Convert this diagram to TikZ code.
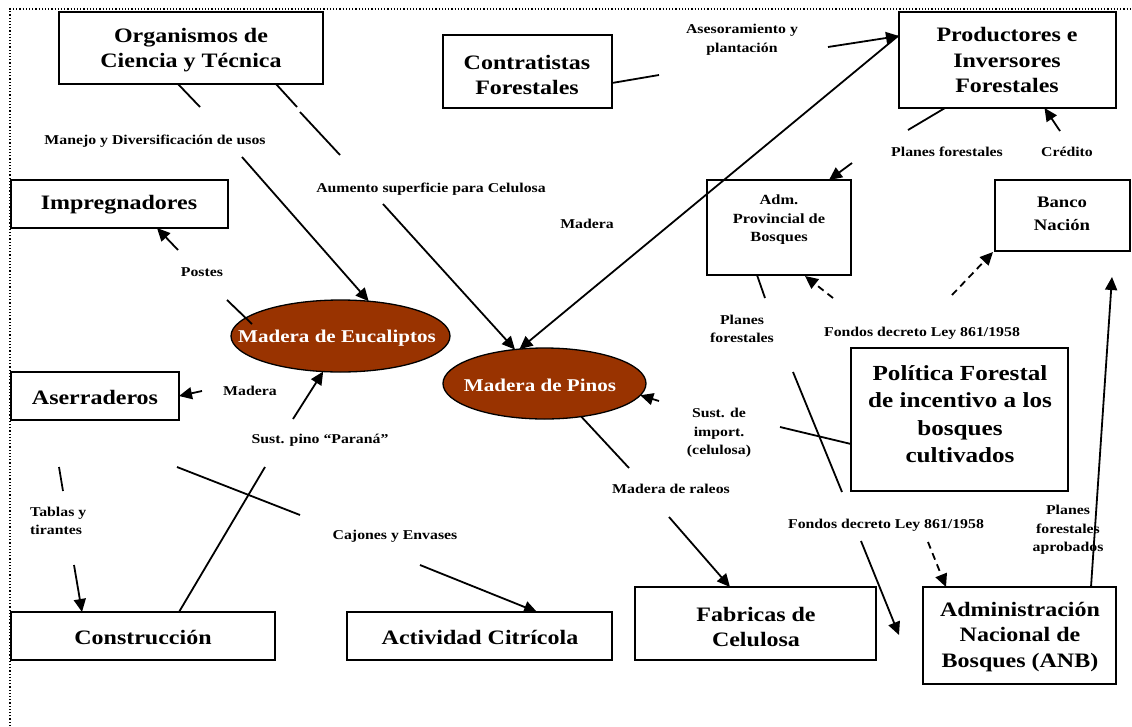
\documentclass[tikz,border=0pt]{standalone}
\usepackage{fontspec}
\setmainfont{Liberation Serif}[FakeStretch=1.17]
\usetikzlibrary{arrows.meta,shapes.geometric,calc}
\definecolor{wood}{HTML}{993300}
% draws an empty framed box from its two corners
\newcommand\boxnode[5]{%
  \node[box, minimum width={(#4-#2)*1pt}, minimum height={(#5-#3)*1pt}]
    (#1) at ({(#2+#4)/2},{(#3+#5)/2}) {};}
\begin{document}
\begin{tikzpicture}[x=1pt,y=-1pt,
  box/.style={draw, line width=1.6pt, inner sep=0pt, outer sep=0pt},
  big/.style={font=\fontsize{20.5}{25.5}\selectfont\bfseries, align=center, inner sep=0pt},
  mid/.style={font=\fontsize{14}{18.5}\selectfont\bfseries, align=center, inner sep=0pt},
  lbl/.style={font=\fontsize{13.5}{18.5}\selectfont\bfseries, align=center, inner sep=0pt},
  wood/.style={ellipse, draw, line width=1.3pt, fill=wood, inner sep=0pt, outer sep=0pt},
  woodtext/.style={text=white, font=\fontsize{18}{22}\selectfont\bfseries, inner sep=0pt},
  ln/.style={line width=1.8pt},
  arr/.style={line width=1.8pt, -{Triangle[length=13pt,width=12pt]}},
  dsh/.style={arr, dash pattern=on 7pt off 5pt}]
\useasboundingbox (0,0) rectangle (1132,726);

% outer dotted frame
\draw[line width=1.2pt, dotted] (10,726) -- (10,9) -- (1132,9);

% boxes
\boxnode{org}{59}{12}{323}{84}
\boxnode{con}{443}{35}{612}{108}
\boxnode{prod}{899}{12}{1116}{108}
\boxnode{imp}{11}{180}{228}{228}
\boxnode{adm}{707}{180}{851}{275}
\boxnode{banco}{995}{180}{1130}{251}
\boxnode{ase}{11}{372}{179}{420}
\boxnode{pol}{851}{348}{1068}{491}
\boxnode{cons}{11}{612}{275}{660}
\boxnode{citr}{347}{612}{612}{660}
\boxnode{fab}{635}{587}{876}{660}
\boxnode{anb}{923}{587}{1116}{684}

% box titles
\node[big] (org-t) at (191,50) {Organismos de\\Ciencia y Técnica};
\node[big] (con-t) at (527,75) {Contratistas\\Forestales};
\node[big] (prod-t) at (1007,60) {Productores e\\Inversores\\Forestales};
\node[big] (imp-t) at (119,205) {Impregnadores};
\node[mid] (adm-t) at (779,220) {Adm.\\Provincial de\\Bosques};
\node[font=\fontsize{16}{23}\selectfont\bfseries, align=center, inner sep=0pt]
  (banco-t) at (1062,214) {Banco\\Nación};
\node[big] (ase-t) at (95,397) {Aserraderos};
\node[font=\fontsize{21.5}{27.5}\selectfont\bfseries, align=center, inner sep=0pt]
  (pol-t) at (960,414) {Política Forestal\\de incentivo a los\\bosques\\cultivados};
\node[big] (cons-t) at (143,637) {Construcción};
\node[big] (citr-t) at (480,637) {Actividad Citrícola};
\node[big] (fab-t) at (756,627) {Fabricas de\\Celulosa};
\node[big] (anb-t) at (1020,637) {Administración\\Nacional de\\Bosques (ANB)};

% the two kinds of wood
\node[wood, minimum width=219pt, minimum height=72pt] (euc) at (340.5,336) {};
\node[woodtext] (euc-t) at (337,338) {Madera de Eucaliptos};
\node[wood, minimum width=203pt, minimum height=71pt] (pin) at (544.5,383.5) {};
\node[woodtext] (pin-t) at (540,385) {Madera de Pinos};

% flow labels
\node[lbl] (l-manejo) at (155,141) {Manejo y Diversificación de usos};
\node[lbl] (l-aumento) at (431,189) {Aumento superficie para Celulosa};
\node[lbl] (l-ases) at (742,40) {Asesoramiento y\\plantación};
\node[lbl] (l-mad1) at (587,224) {Madera};
\node[lbl] (l-planes1) at (947,152) {Planes forestales};
\node[lbl] (l-cred) at (1067,152) {Crédito};
\node[lbl] (l-postes) at (202,272) {Postes};
\node[lbl] (l-mad2) at (250,391) {Madera};
\node[lbl] (l-sust) at (320,440) {Sust. pino “Paraná”};
\node[lbl] (l-planes2) at (742,329) {Planes\\forestales};
\node[lbl] (l-fondos1) at (922,333) {Fondos decreto Ley 861/1958};
\node[lbl] (l-import) at (719,433) {Sust. de\\import.\\(celulosa)};
\node[lbl] (l-raleos) at (671,489) {Madera de raleos};
\node[lbl, align=left, anchor=west] (l-tablas) at (30,521) {Tablas y\\tirantes};
\node[lbl] (l-cajones) at (395,536) {Cajones y Envases};
\node[lbl] (l-fondos2) at (886,525) {Fondos decreto Ley 861/1958};
\node[lbl] (l-aprob) at (1068,530) {Planes\\forestales\\aprobados};

% break points of the connectors around their labels
\coordinate (a1) at (200,107);  \coordinate (a2) at (242,157);
\coordinate (b1) at (297,107);  \coordinate (b2) at (300,112);
\coordinate (b3) at (340,155);  \coordinate (b4) at (383,204);
\coordinate (c1) at (659,75);   \coordinate (c2) at (828,47);
\coordinate (e1) at (908,130);  \coordinate (e2) at (852,163);
\coordinate (f1) at (1060,131);
\coordinate (g1) at (833,298);  \coordinate (h1) at (952,295);
\coordinate (i1) at (765,298);  \coordinate (i2) at (793,372);
\coordinate (i3) at (842,492);  \coordinate (i4) at (861,541);
\coordinate (i5) at (899,635);
\coordinate (j1) at (780,427);  \coordinate (j2) at (659,401);
\coordinate (k1) at (928,542);
\coordinate (l1) at (1112,277);
\coordinate (m1) at (629,468);  \coordinate (m2) at (669,517);
\coordinate (n1) at (252,324);  \coordinate (n2) at (227,300);
\coordinate (n3) at (178,250);
\coordinate (o1) at (202,391);
\coordinate (p1) at (265,467);  \coordinate (p2) at (293,419);
\coordinate (q1) at (177,467);  \coordinate (q2) at (300,515);
\coordinate (q3) at (420,565);
\coordinate (r1) at (59,467);   \coordinate (r2) at (63,491);
\coordinate (r3) at (74,565);

% Organismos -> Eucaliptos (manejo)
\draw[ln] ($(org.south west)+(119,0)$) -- (a1);
\draw[arr] (a2) -- (euc.51);
% Organismos -> Pinos (aumento de superficie)
\draw[ln] ($(org.south west)+(217,0)$) -- (b1);
\draw[ln] (b2) -- (b3);
\draw[arr] (b4) -- (pin.131);
% Contratistas -> Productores
\draw[ln] ($(con.east)+(0,11.5)$) -- (c1);
\draw[arr] (c2) -- ($(prod.north west)+(0,24)$);
% Productores -> Pinos (madera)
\draw[arr] ($(prod.north west)+(-1,24)$) -- (pin.126);
% Productores -> Adm. Provincial (planes forestales)
\draw[ln] ($(prod.south)+(-62.5,0)$) -- (e1);
\draw[arr] (e2) -- ($(adm.north)+(50,0)$);
% credito
\draw[arr] (f1) -- ($(prod.south)+(37,0)$);
% fondos del decreto
\draw[dsh] (g1) -- ($(adm.south)+(26,1)$);
\draw[dsh] (h1) -- ($(banco.south west)+(-2,1)$);
% Adm. Provincial -> Politica (planes forestales)
\draw[ln] ($(adm.south)+(-22,0)$) -- (i1);
\draw[ln] (i2) -- (i3);
\draw[arr] (i4) -- (i5);
% Politica -> Pinos (sustitucion de importaciones)
\draw[ln] ($(pol.west)+(0,24.5)$) -- (j1);
\draw[arr] (j2) -- (pin.-7.5);
% Politica -> ANB
\draw[dsh] (k1) -- ($(anb.north)+(-73.5,0)$);
% ANB -> Banco (planes aprobados)
\draw[arr] ($(anb.north)+(71.5,0)$) -- (l1);
% Pinos -> Fabricas (raleos)
\draw[ln] (pin.-42) -- (m1);
\draw[arr] (m2) -- ($(fab.north)+(-25.5,0)$);
% Eucaliptos -> Impregnadores (postes)
\draw[ln] (n1) -- (n2);
\draw[arr] (n3) -- ($(imp.south)+(37.5,0)$);
% Eucaliptos -> Aserraderos
\draw[arr] (o1) -- (ase.east);
% Construccion -> Eucaliptos (sustituto del pino Parana)
\draw[ln] ($(cons.north)+(36,0)$) -- (p1);
\draw[arr] (p2) -- (euc.-116);
% Aserraderos -> Actividad Citricola
\draw[ln] (q1) -- (q2);
\draw[arr] (q3) -- ($(citr.north)+(57.5,0)$);
% Aserraderos -> Construccion
\draw[ln] (r1) -- (r2);
\draw[arr] (r3) -- ($(cons.north)+(-61,0)$);
\end{tikzpicture}
\end{document}
